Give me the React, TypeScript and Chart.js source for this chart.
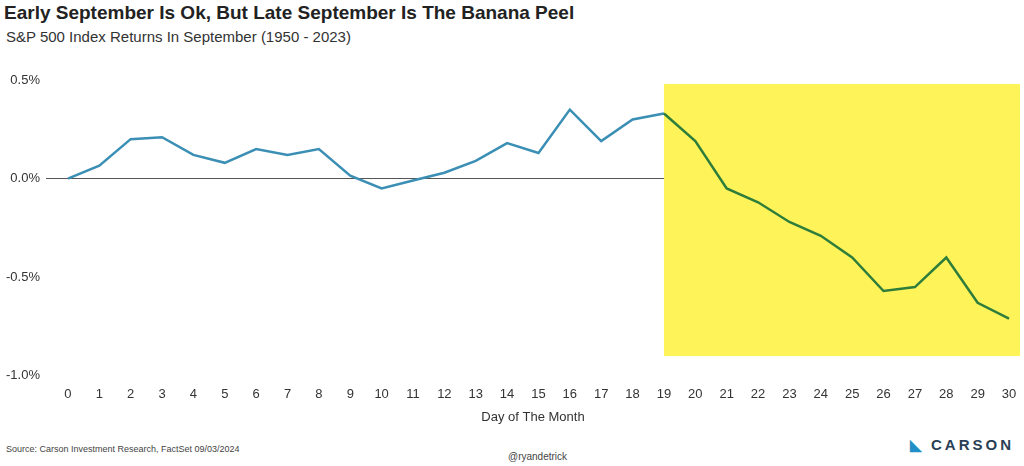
import { useEffect, useRef } from "react";
import Chart from "chart.js/auto";

const days = Array.from({ length: 31 }, (_, i) => i);
const returns = [
  0.0, 0.066, 0.2, 0.21, 0.12, 0.08, 0.15, 0.12, 0.15, 0.015, -0.05, -0.01, 0.03, 0.09, 0.18, 0.13,
  0.35, 0.19, 0.3, 0.33, 0.19, -0.05, -0.12, -0.22, -0.29, -0.4, -0.57, -0.55, -0.4, -0.63, -0.71,
];
const highlightStart = 19;
const highlightTop = 0.48;
const highlightBottom = -0.9;

const highlight = {
  id: "highlight",
  beforeDatasetsDraw(chart: any) {
    const { ctx, scales, chartArea } = chart;
    const x0 = scales.x.getPixelForValue(highlightStart);
    const y0 = scales.y.getPixelForValue(highlightTop);
    const y1 = scales.y.getPixelForValue(highlightBottom);
    ctx.save();
    ctx.fillStyle = "#fff35a";
    ctx.fillRect(x0, y0, chartArea.right - x0, y1 - y0);
    ctx.restore();
  },
};

const App = () => {
  const chartRef = useRef<HTMLCanvasElement | null>(null);

  useEffect(() => {
    if (!chartRef.current) return;
    const chart = new Chart(chartRef.current, {
      type: "line",
      data: {
        datasets: [
          {
            data: days.map((d, i) => ({ x: d, y: returns[i] })),
            borderColor: "#3b8fb5",
            borderWidth: 2.5,
            pointRadius: 0,
            tension: 0,
            segment: {
              borderColor: (c: any) => (c.p0.parsed.x >= highlightStart ? "#2e7d3a" : "#3b8fb5"),
            },
          },
        ],
      },
      options: {
        animation: false,
        responsive: false,
        layout: { padding: { top: 80, right: 4, left: 0 } },
        plugins: { legend: { display: false }, tooltip: { enabled: false } },
        scales: {
          x: {
            type: "linear",
            min: -0.7,
            max: 30.35,
            grid: { display: false },
            border: { display: false },
            ticks: { stepSize: 1, color: "#333", font: { family: "Liberation Sans", size: 13 }, autoSkip: false },
            afterBuildTicks: (axis: any) => {
              axis.ticks = days.map((d) => ({ value: d }));
            },
            title: { display: true, text: "Day of The Month", color: "#333", font: { family: "Liberation Sans", size: 13 } },
          },
          y: {
            min: -1.0,
            max: 0.5,
            border: { display: false },
            grid: {
              color: (c: any) => (c.tick.value === 0 ? "#555" : "transparent"),
              drawTicks: false,
            },
            ticks: {
              stepSize: 0.5,
              padding: 6,
              color: "#333",
              font: { family: "Liberation Sans", size: 13 },
              callback: (v: any) => Number(v).toFixed(1) + "%",
            },
          },
        },
      },
      plugins: [highlight],
    });
    return () => chart.destroy();
  }, []);

  return (
    <div style={{ position: "fixed", left: 0, top: 0, width: 1024, height: 466, background: "#fff", fontFamily: "Liberation Sans, Arial, sans-serif" }}>
      <div style={{ position: "absolute", left: 4, top: 2, fontSize: 19, fontWeight: "bold", color: "#222" }}>
        Early September Is Ok, But Late September Is The Banana Peel
      </div>
      <div style={{ position: "absolute", left: 6, top: 28, fontSize: 15, color: "#333" }}>
        S&amp;P 500 Index Returns In September (1950 - 2023)
      </div>
      <canvas ref={chartRef} width={1024} height={429} style={{ position: "absolute", left: 0, top: 0 }} />
      <div style={{ position: "absolute", left: 6, top: 444, fontSize: 9, color: "#444" }}>
        Source: Carson Investment Research, FactSet 09/03/2024
      </div>
      <div style={{ position: "absolute", left: 508, top: 451, fontSize: 10, color: "#444" }}>@ryandetrick</div>
      <div style={{ position: "absolute", left: 910, top: 436, fontSize: 15, letterSpacing: 3, color: "#2a3f55", fontWeight: "bold" }}>
        <span style={{ color: "#1f8fc5", marginRight: 6 }}>◣</span>CARSON
      </div>
    </div>
  );
};

export default App;
